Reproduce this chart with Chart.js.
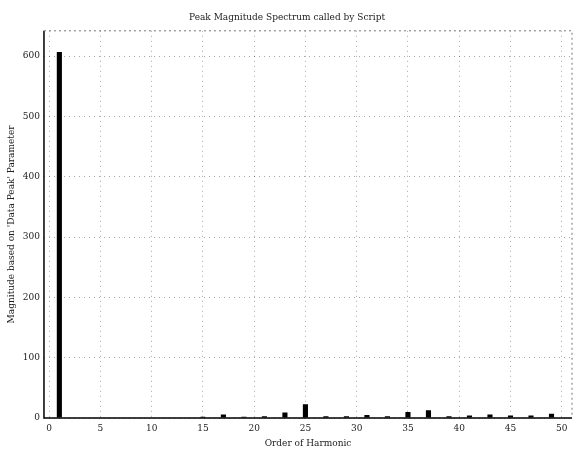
<!DOCTYPE html>
<html>
<head>
<meta charset="utf-8">
<script src="https://cdn.jsdelivr.net/npm/chart.js@4/dist/chart.umd.min.js"></script>
<style>
  html, body { margin: 0; padding: 0; background: #fff; }
  #wrap { width: 575px; height: 450px; }
</style>
</head>
<body>
<div id="wrap"><canvas id="chart-spectrum"></canvas></div>
<script>
// Harmonic order -> peak magnitude
const harmonics = [];
for (let h = 0; h <= 50; h++) harmonics.push(h);
const magnitudes = [
  0, 607, 0, 1, 0, 1, 0, 1, 0, 1,
  0, 1, 0, 1, 0, 2, 0, 6, 0, 2,
  0, 3, 0, 9, 0, 23, 0, 3, 0, 3,
  0, 5, 0, 3, 0, 10, 0, 13, 0, 3,
  0, 4, 0, 6, 0, 4, 0, 4, 0, 7,
  0
];
const xTicks = [0, 5, 10, 15, 20, 25, 30, 35, 40, 45, 50];
const yTicks = [0, 100, 200, 300, 400, 500, 600];

Chart.defaults.font.family = "'DejaVu Serif', serif";
Chart.defaults.font.size = 9;
Chart.defaults.color = '#222';

// Frame around the plot area, like the MATLAB axes box
const boxPlugin = {
  id: 'box',
  afterDraw(chart) {
    const { ctx, chartArea: a } = chart;
    ctx.save();
    ctx.strokeStyle = '#000';
    ctx.lineWidth = 1.5;
    ctx.beginPath();
    ctx.moveTo(a.left, a.top);
    ctx.lineTo(a.left, a.bottom);
    ctx.lineTo(a.right, a.bottom);
    ctx.stroke();
    ctx.strokeStyle = '#777';
    ctx.lineWidth = 1;
    ctx.setLineDash([2, 3]);
    ctx.beginPath();
    ctx.moveTo(a.left, a.top);
    ctx.lineTo(a.right, a.top);
    ctx.lineTo(a.right, a.bottom);
    ctx.stroke();
    ctx.restore();
  }
};

new Chart(document.getElementById('chart-spectrum').getContext('2d'), {
  type: 'bar',
  data: {
    datasets: [{
      label: 'Magnitude',
      data: harmonics.map((h, i) => ({ x: h, y: magnitudes[i] })),
      backgroundColor: '#000',
      borderWidth: 0,
      barPercentage: 0.5,
      categoryPercentage: 1.0
    }]
  },
  options: {
    responsive: true,
    maintainAspectRatio: false,
    animation: false,
    layout: { padding: { left: 2, right: 3, top: 4, bottom: 0 } },
    scales: {
      x: {
        type: 'linear',
        offset: false,
        min: -0.5,
        max: 51,
        afterBuildTicks: (axis) => { axis.ticks = xTicks.map(v => ({ value: v })); },
        grid: {
          offset: false,
          color: 'rgba(0,0,0,0.35)',
          drawTicks: false
        },
        border: { display: false, dash: [1, 4] },
        ticks: { padding: 6, maxRotation: 0, font: { lineHeight: 1 } },
        title: {
          display: true,
          text: 'Order of Harmonic',
          font: { lineHeight: 1 },
          padding: { top: 0, bottom: 2 }
        }
      },
      y: {
        min: 0,
        max: 642,
        afterBuildTicks: (axis) => { axis.ticks = yTicks.map(v => ({ value: v })); },
        grid: {
          color: 'rgba(0,0,0,0.35)',
          drawTicks: false
        },
        border: { display: false, dash: [1, 4] },
        ticks: { padding: 4 },
        title: { display: true, text: "Magnitude based on 'Data Peak' Parameter", padding: { top: 4, bottom: 2 } }
      }
    },
    plugins: {
      legend: { display: false },
      tooltip: { enabled: false },
      title: {
        display: true,
        text: 'Peak Magnitude Spectrum called by Script',
        font: { size: 9, weight: 'normal' },
        padding: { top: 8, bottom: 8 }
      }
    }
  },
  plugins: [boxPlugin]
});
</script>
</body>
</html>
